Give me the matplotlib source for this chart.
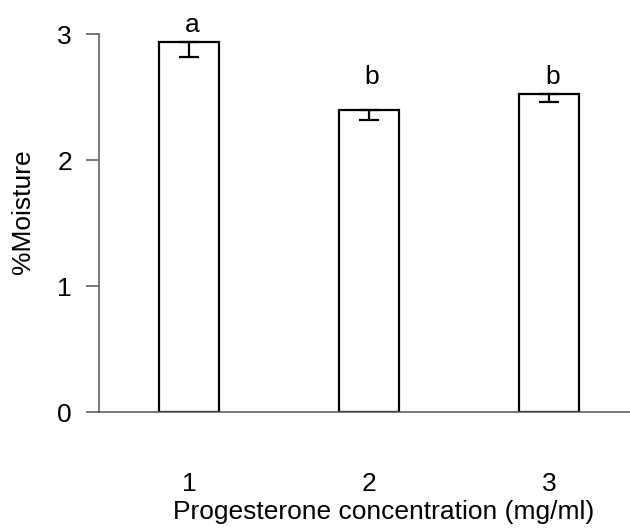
import matplotlib
matplotlib.use("Agg")
import matplotlib.pyplot as plt

# Moisture content by progesterone concentration
concentrations = ["1", "2", "3"]
moisture = [2.937, 2.397, 2.524]
sem = [0.12, 0.08, 0.066]
groups = ["a", "b", "b"]
group_label_y = [3.016, 2.603, 2.603]
y_ticks = [0, 1, 2, 3]

plt.rcParams["font.family"] = ["Liberation Sans", "DejaVu Sans"]
FS = 19

fig = plt.figure(figsize=(6.3, 5.3), dpi=100)
W, H = 630, 530
left, right, top, bottom = 99, 630, 34, 412
ax = fig.add_axes([left / W, 1 - bottom / H, (right - left) / W, (bottom - top) / H])

x = list(range(1, len(concentrations) + 1))
ax.bar(x, moisture, width=0.333, color="white", edgecolor="black", linewidth=1.6, zorder=2)
ax.errorbar(x, moisture, yerr=[sem, [0] * len(sem)], fmt="none", ecolor="black",
            elinewidth=1.6, capsize=7.5, capthick=1.6, zorder=3)

for xi, g, gy in zip(x, groups, group_label_y):
    ax.text(xi + 0.015, gy, g, ha="center", va="baseline", fontsize=FS)

ax.set_xlim(0.5, 3.447)
ax.set_ylim(0, 3)
ax.set_yticks(y_ticks)
ax.set_xticks(x)
ax.set_xticklabels(concentrations)

for side in ("top", "right"):
    ax.spines[side].set_visible(False)
for side in ("left", "bottom"):
    ax.spines[side].set_color("#555555")
    ax.spines[side].set_linewidth(1.1)

ax.tick_params(axis="y", direction="out", length=9.4, width=1.1, color="#555555",
               labelsize=FS, pad=10)
ax.tick_params(axis="x", length=0, labelsize=FS, pad=43)

ax.set_xlabel("Progesterone concentration (mg/ml)", fontsize=FS)
ax.xaxis.set_label_coords((384 - left) / (right - left), -(512 - bottom) / (bottom - top))
ax.xaxis.label.set_va("center")
ax.set_ylabel("%Moisture", fontsize=FS)
ax.yaxis.set_label_coords((23 - left) / (right - left), (bottom - 212) / (bottom - top))
ax.yaxis.label.set_va("center")

fig.savefig("out.png", dpi=100)
